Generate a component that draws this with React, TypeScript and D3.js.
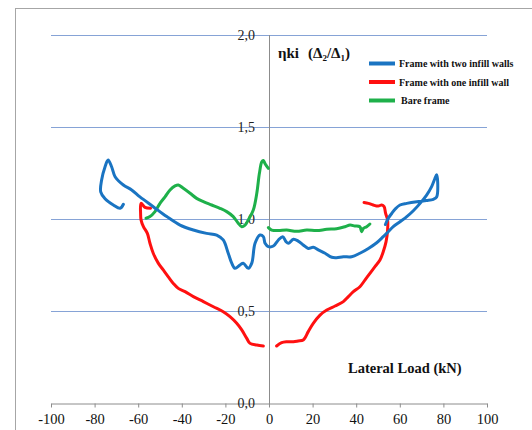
import React, { useEffect, useRef } from "react";
import * as d3 from "d3";

// load (kN) / eta pairs
const twoInfill: [number, number][] = [
  [-66.8, 1.08], [-68.3, 1.058], [-71.4, 1.076], [-75.2, 1.11], [-77.2, 1.148], [-76.8, 1.21],
  [-75.2, 1.284], [-73.8, 1.32], [-72.2, 1.284], [-70.6, 1.23], [-66.8, 1.185], [-63, 1.158],
  [-59.2, 1.12], [-53.1, 1.067], [-46.9, 1.013], [-40.8, 0.967], [-34.7, 0.94], [-28.6, 0.922],
  [-24, 0.913], [-21, 0.886], [-18.7, 0.814], [-17.1, 0.76], [-15.6, 0.732], [-13.3, 0.75],
  [-11.8, 0.76], [-9.5, 0.732], [-7.9, 0.76], [-6.4, 0.868], [-4.1, 0.913], [-2.6, 0.904],
  [-1.8, 0.868], [-0.3, 0.85], [2, 0.853], [4.3, 0.886], [6.3, 0.904], [7.8, 0.877],
  [8.9, 0.868], [11.2, 0.89], [13.4, 0.88], [15.7, 0.859], [18, 0.84], [20.3, 0.846],
  [22.6, 0.832], [25.7, 0.814], [28.8, 0.792], [31, 0.79], [34.1, 0.795], [37.9, 0.795],
  [41.7, 0.814], [45.6, 0.84], [49.4, 0.871], [52.4, 0.904], [54.7, 0.931], [57, 0.958],
  [60.1, 0.985], [63.2, 1.013], [66.2, 1.045], [69.3, 1.085], [72.3, 1.13], [74.6, 1.176],
  [76.1, 1.22], [76.9, 1.24], [77.4, 1.194], [76.9, 1.12], [75.4, 1.107], [72.3, 1.1],
  [67.8, 1.094], [63.2, 1.085], [60.1, 1.076], [57.8, 1.053], [56.3, 1.03], [54.7, 1.004],
  [53.4, 0.97],
];

const oneInfillLeft: [number, number][] = [
  [-54.3, 1.058], [-56.9, 1.063], [-58.7, 1.085], [-58.9, 1.03], [-58.7, 0.995], [-57.6, 0.958],
  [-55.8, 0.922], [-54.6, 0.868], [-53.1, 0.814], [-50.8, 0.76], [-48.5, 0.723], [-46.2, 0.686],
  [-43.9, 0.65], [-41.6, 0.623], [-38.5, 0.605], [-34.7, 0.578], [-30.1, 0.551], [-25.5, 0.523],
  [-21, 0.496], [-17.9, 0.469], [-14.8, 0.433], [-12.5, 0.397], [-10.2, 0.351], [-8.7, 0.324],
  [-5.6, 0.315], [-2.6, 0.31],
];

const oneInfillRight: [number, number][] = [
  [3.5, 0.31], [5.8, 0.328], [8.1, 0.333], [11.2, 0.333], [13.4, 0.337], [15.7, 0.342],
  [18, 0.388], [20.3, 0.433], [23.4, 0.478], [26.5, 0.505], [30.3, 0.527], [34.1, 0.551],
  [36.4, 0.578], [38.7, 0.605], [41.7, 0.632], [44, 0.668], [46.3, 0.705], [48.6, 0.741],
  [50.9, 0.777], [52.4, 0.822], [53.7, 0.877], [54.4, 0.94], [54.4, 0.995], [53.5, 1.03],
  [52.8, 1.067], [51.7, 1.076], [50.1, 1.07], [47.8, 1.076], [45.6, 1.085], [43.6, 1.09],
];

const bareLeft: [number, number][] = [
  [-56.4, 1.004], [-54.6, 1.013], [-52.3, 1.04], [-50, 1.085], [-47.7, 1.12], [-45.4, 1.158],
  [-43.1, 1.18], [-41.6, 1.185], [-39.3, 1.167], [-36.2, 1.14], [-33.2, 1.112], [-30.1, 1.094],
  [-26.3, 1.076], [-22.5, 1.058], [-19.4, 1.04], [-16.4, 1.013], [-14.1, 0.977], [-12.5, 0.958],
  [-11, 0.967], [-9.5, 0.995], [-7.2, 1.049], [-5.6, 1.14], [-4.4, 1.248], [-3.3, 1.311],
  [-2.6, 1.318], [-1.8, 1.3], [-0.3, 1.275],
];

const bareRight: [number, number][] = [
  [-0.3, 0.953], [1.2, 0.94], [4.3, 0.937], [8.1, 0.94], [12.7, 0.933], [17.3, 0.94],
  [21.9, 0.937], [26.5, 0.944], [31, 0.947], [34.9, 0.958], [37.2, 0.967], [39.4, 0.962],
  [41.7, 0.958], [42.5, 0.931], [43.3, 0.949], [44.8, 0.958], [46.3, 0.973],
];

const xTicks = [-100, -80, -60, -40, -20, 0, 20, 40, 60, 80, 100];
const yTicks = [0, 0.5, 1.0, 1.5, 2.0];
const legendNames = ["Frame with two infill walls", "Frame with one infill wall", "Bare frame"];
const colors = ["#1a74c2", "#ff1010", "#1eb04a"];

const SERIF = "'Liberation Serif', 'Times New Roman', Times, serif";

export default function App() {
  const ref = useRef<SVGSVGElement>(null);

  useEffect(() => {
    const svg = d3.select(ref.current);
    svg.selectAll("*").remove();

    const x = d3.scaleLinear().domain([-100, 100]).range([51, 487]);
    const y = d3.scaleLinear().domain([0, 2]).range([403, 35]);

    // outer frame
    svg.append("rect").attr("x", 15.5).attr("y", 8.5).attr("width", 540).attr("height", 440)
      .attr("fill", "none").attr("stroke", "#a6a6a6");

    // gridlines
    svg.append("g").selectAll("line").data(yTicks.filter(d => d > 0)).enter().append("line")
      .attr("x1", x(-100)).attr("x2", x(100))
      .attr("y1", d => y(d) + 0.5).attr("y2", d => y(d) + 0.5)
      .attr("stroke", "#86a3d6").attr("stroke-width", 1);

    // x axis
    const xAxis = svg.append("g").attr("transform", `translate(0, ${y(0) + 0.5})`)
      .call(d3.axisBottom(x).tickValues(xTicks).tickSize(4).tickPadding(6).tickSizeOuter(0)
        .tickFormat(d => String(d)));
    xAxis.attr("font-family", SERIF).attr("font-size", 14.5);
    xAxis.select(".domain").attr("stroke", "#8c8c8c");
    xAxis.selectAll(".tick line").attr("stroke", "#8c8c8c");
    xAxis.selectAll("text").attr("fill", "#111");

    // y axis line through zero
    svg.append("line").attr("x1", x(0) + 0.5).attr("x2", x(0) + 0.5)
      .attr("y1", y(2)).attr("y2", y(0) + 4).attr("stroke", "#8c8c8c");

    svg.append("g").selectAll("text").data(yTicks).enter().append("text")
      .attr("x", 255).attr("y", d => y(d) + 5)
      .attr("text-anchor", "end")
      .style("font-family", SERIF).attr("font-size", 14).attr("fill", "#222")
      .text(d => d.toFixed(1).replace(".", ","));

    // curves
    const line = d3.line<[number, number]>()
      .x(d => x(d[0])).y(d => y(d[1]))
      .curve(d3.curveCatmullRom.alpha(0.5));

    const series: [[number, number][], string][] = [
      [oneInfillLeft, colors[1]], [oneInfillRight, colors[1]],
      [bareLeft, colors[2]], [bareRight, colors[2]],
      [twoInfill, colors[0]],
    ];
    series.forEach(([pts, c]) => {
      svg.append("path").attr("d", line(pts)).attr("fill", "none")
        .attr("stroke", c).attr("stroke-width", 3)
        .attr("stroke-linejoin", "round").attr("stroke-linecap", "round");
    });

    // title of y
    const t = svg.append("text").attr("x", 278).attr("y", 58)
      .style("font-family", SERIF).attr("font-weight", "bold")
      .attr("font-size", 15).attr("fill", "#111");
    t.append("tspan").text("ηki");
    t.append("tspan").attr("dx", 9).text("(Δ");
    t.append("tspan").attr("font-size", 9).attr("dy", 3).text("2");
    t.append("tspan").attr("dy", -3).text("/Δ");
    t.append("tspan").attr("font-size", 9).attr("dy", 3).text("1");
    t.append("tspan").attr("dy", -3).text(")");

    // legend
    const lg = svg.append("g").selectAll("g").data(legendNames).enter().append("g")
      .attr("transform", (d, i) => `translate(369, ${63.5 + i * 18.5})`);
    lg.append("line").attr("x1", 0).attr("x2", 26).attr("stroke", (d, i) => colors[i])
      .attr("stroke-width", 4);
    lg.append("text").attr("x", (d, i) => (i === 2 ? 32 : 30)).attr("y", 3.5)
      .style("font-family", SERIF).attr("font-weight", "bold")
      .attr("font-size", 10).attr("fill", "#111").text(d => d);

    svg.append("text").attr("x", 348).attr("y", 373)
      .style("font-family", SERIF).attr("font-weight", "bold")
      .attr("font-size", 14.5).attr("fill", "#111").text("Lateral Load (kN)");
  }, []);

  return (
    <svg ref={ref} width={532} height={430}
      style={{ position: "absolute", left: 0, top: 0, background: "#fff" }} />
  );
}
